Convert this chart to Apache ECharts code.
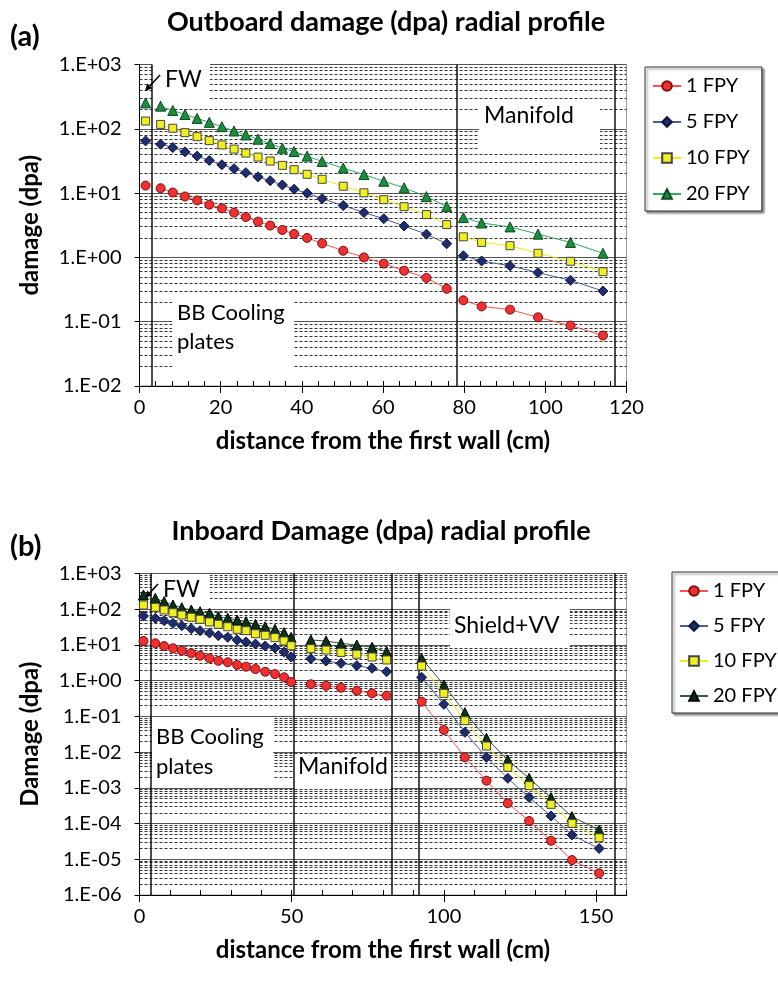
<!DOCTYPE html>
<html>
<head>
<meta charset="utf-8">
<title>Damage (dpa) radial profiles</title>
<script src="https://cdn.jsdelivr.net/npm/echarts@6/dist/echarts.min.js"></script>
<style>
html, body { margin: 0; padding: 0; background: #fff; }
#chart { width: 778px; height: 990px; }
</style>
</head>
<body>
<div id="chart"></div>
<script type="text/javascript">
// values; null = no line between two zones
// (a) outboard: distance (cm) and damage (dpa)
var outX   = [1.5, null, 5.2, 8.2, 11.2, 14.2, 17.2, 20.3, 23.3, 26.2, 29.2, 32.2, 35.2, 38.1, 41.3, 45.0, 50.2, 55.3, 60.2, 65.2, 70.7, 75.7, null, 79.8, 84.3, 91.3, 98.2, 106.2, 114.2];
var out1   = [13.1, null, 11.9, 10.2, 8.86, 7.7, 6.6, 5.8, 4.97, 4.25, 3.6, 3.13, 2.67, 2.32, 2.01, 1.65, 1.27, 1.0, 0.80, 0.62, 0.48, 0.325, null, 0.215, 0.173, 0.154, 0.117, 0.087, 0.061];
var out5   = [64.8, null, 57.7, 51.1, 43.8, 37.6, 32.2, 27.6, 24.0, 20.8, 17.9, 15.6, 13.4, 11.5, 9.96, 8.2, 6.4, 4.97, 4.0, 3.08, 2.30, 1.63, null, 1.06, 0.88, 0.74, 0.58, 0.44, 0.30];
var out10  = [132, null, 117, 102, 87.1, 75.5, 65.5, 56.2, 48.3, 41.9, 36.3, 31.5, 27.0, 23.1, 19.6, 16.4, 12.8, 10.1, 7.9, 6.15, 4.63, 3.24, null, 2.09, 1.71, 1.52, 1.16, 0.87, 0.60];
var out20  = [253, null, 225, 193, 167, 145, 126, 108, 92.4, 80.2, 68.8, 58.9, 49.9, 44.4, 37.6, 31.1, 24.5, 19.4, 15.3, 12.1, 8.8, 6.2, null, 4.16, 3.43, 2.98, 2.30, 1.71, 1.16];
var outWalls = [3.0, 78.1, 117.2];

// (b) inboard
var inX  = [1.3, null, 5.2, 8.1, 11.0, 13.9, 17.0, 19.9, 23.0, 25.9, 29.0, 32.1, 35.0, 38.1, 41.3, 44.5, 47.5, 49.8, null, 56.3, 61.3, 66.2, 71.4, 76.4, 81.2, null, 92.7, 100.0, 106.9, 114.0, 121.0, 128.0, 135.2, 142.1, 151.0];
var in1  = [12.9, null, 11.1, 9.3, 8.05, 6.9, 5.83, 5.0, 4.2, 3.6, 3.27, 2.74, 2.46, 2.12, 1.78, 1.53, 1.24, 0.92, null, 0.79, 0.72, 0.635, 0.52, 0.44, 0.38, null, 0.258, 0.0416, 0.00714, 0.00158, 3.7e-4, 1.18e-4, 3.3e-5, 9.5e-6, 4.05e-6];
var in5  = [64.6, null, 55.6, 47.7, 40.2, 34.6, 28.5, 25.1, 21.6, 18.2, 16.3, 13.7, 12.1, 10.6, 9.3, 8.2, 6.3, 4.6, null, 4.12, 3.55, 3.06, 2.63, 2.22, 1.78, null, 1.24, 0.218, 0.0358, 0.00714, 0.00185, 5.4e-4, 1.63e-4, 4.8e-5, 2.0e-5];
var in10 = [131, null, 113, 95, 80, 68.9, 59.4, 52.2, 43.9, 37.8, 32.4, 27.4, 25.1, 20.6, 18.6, 16.0, 12.9, 9.5, null, 7.85, 7.2, 6.2, 5.5, 4.6, 3.8, null, 2.57, 0.44, 0.0757, 0.0148, 0.00375, 1.15e-3, 3.45e-4, 1.01e-4, 4.0e-5];
var in20 = [250, null, 202, 163, 131, 110, 95, 85, 77, 62, 55.6, 49.9, 44.8, 37.8, 32.4, 27.4, 22.0, 16.3, null, 13.7, 12.9, 11.1, 9.96, 8.6, 6.5, null, 4.2, 0.757, 0.127, 0.0243, 0.0060, 1.85e-3, 5.3e-4, 1.56e-4, 6.6e-5];
var inWalls = [3.7, 50.6, 82.9, 91.9, 156.3];

var names = ['1 FPY', '5 FPY', '10 FPY', '20 FPY'];

var FONT = 'Lato, "Noto Sans", sans-serif';

var chart = echarts.init(document.getElementById('chart'));

function pts(xs, ys) {
    return xs.map(function (x, i) {
        return (x == null || ys[i] == null) ? ['-', '-'] : [x, ys[i]];
    });
}

// dashed minor grid at 2..9 of every decade
function minorLines(lo, hi) {
    var out = [];
    for (var e = lo; e < hi; e++) {
        for (var m = 2; m <= 9; m++) out.push({ yAxis: m * Math.pow(10, e) });
    }
    return out;
}

function expLabel(v) {
    var e = Math.round(Math.log10(v));
    return '1.E' + (e < 0 ? '-' : '+') + (Math.abs(e) < 10 ? '0' : '') + Math.abs(e);
}

var markStyles = [
    { symbol: 'circle', size: 9, fill: '#f03030', border: '#7a1010', line: '#ff5050' },
    { symbol: 'diamond', size: 10, fill: '#1f2d6e', border: '#0c1440', line: '#4a5c9c' },
    { symbol: 'rect', size: 8, fill: '#f0f020', border: '#444444', line: '#eeee10' },
    { symbol: 'triangle', size: 10, fill: '#1d8c3e', border: '#0b4a1e', line: '#30a860' }
];
var green20b = { symbol: 'triangle', size: 10, fill: '#0a3318', border: '#000000', line: '#2d5e3c' };

function dataSeries(prefix, idx, xs, ys, st, z) {
    return {
        name: prefix + ' ' + names[idx],
        type: 'line',
        xAxisIndex: prefix === 'Outboard' ? 0 : 2,
        yAxisIndex: prefix === 'Outboard' ? 0 : 1,
        data: pts(xs, ys),
        symbol: st.symbol,
        symbolSize: st.size,
        showAllSymbol: true,
        connectNulls: false,
        z: z,
        lineStyle: { color: st.line, width: 1 },
        itemStyle: { color: st.fill, borderColor: st.border, borderWidth: 1 }
    };
}

// minor grid sits under the white text boxes (z 2), walls above them
function gridLines(xi, yi, lo, hi) {
    return {
        type: 'line', xAxisIndex: xi, yAxisIndex: yi, data: [], z: 1, silent: true,
        markLine: {
            z: 1, silent: true, animation: false, symbol: ['none', 'none'], precision: 12,
            label: { show: false },
            lineStyle: { type: [3, 2], color: '#333', width: 1 },
            data: minorLines(lo, hi)
        }
    };
}

function wallLines(xi, yi, walls) {
    return {
        type: 'line', xAxisIndex: xi, yAxisIndex: yi, data: [], z: 3, silent: true,
        markLine: {
            z: 3, silent: true, animation: false, symbol: ['none', 'none'], precision: 4,
            label: { show: false },
            lineStyle: { type: 'solid', color: '#111', width: 1.5 },
            data: walls.map(function (w) { return { xAxis: w }; })
        }
    };
}

function xMain(grid, max, step, name) {
    return {
        gridIndex: grid, type: 'value', position: 'bottom', min: 0, max: max, interval: step,
        axisLine: { lineStyle: { color: '#000', width: 1 } },
        axisTick: { length: 7, lineStyle: { color: '#000' } },
        axisLabel: { color: '#000', fontSize: 20, fontFamily: FONT, margin: 12, showMaxLabel: max % step === 0 },
        splitLine: { show: false },
        name: name, nameLocation: 'middle', nameGap: 43,
        nameTextStyle: { color: '#000', fontSize: 24, fontWeight: 'bold', fontFamily: FONT }
    };
}
function xMinor(grid, max, step) {
    return {
        gridIndex: grid, type: 'value', position: 'bottom', min: 0, max: max, interval: step,
        axisLine: { show: false },
        axisTick: { inside: true, length: 5, lineStyle: { color: '#000' } },
        axisLabel: { show: false }, splitLine: { show: false }
    };
}
function yLog(grid, min, name) {
    return {
        gridIndex: grid, type: 'log', logBase: 10, min: min, max: 1000, position: 'left',
        axisLine: { show: true, lineStyle: { color: '#000', width: 1 } },
        axisTick: { show: true, length: 5, lineStyle: { color: '#000' } },
        axisLabel: { color: '#000', fontSize: 20, fontFamily: FONT, margin: 18, formatter: expLabel },
        splitLine: { show: true, lineStyle: { color: '#555', width: 1 } },
        name: name, nameLocation: 'middle', nameGap: 97, nameRotate: 90,
        nameTextStyle: { color: '#000', fontSize: 24, fontWeight: 'bold', fontFamily: FONT }
    };
}

function legendFor(prefix, left, top, gap) {
    return {
        orient: 'vertical', left: left, top: top, selectedMode: false,
        data: names.map(function (n) { return prefix + ' ' + n; }),
        formatter: function (n) { return n.replace(prefix + ' ', ''); },
        itemWidth: 28, itemHeight: 12, itemGap: gap,
        textStyle: { color: '#000', fontSize: 20, fontFamily: FONT, lineHeight: 18 },
        padding: [9, 12, 7, 7],
        backgroundColor: '#fff', borderColor: '#333', borderWidth: 1,
        shadowColor: 'rgba(0,0,0,0.45)', shadowOffsetX: 2, shadowOffsetY: 2, shadowBlur: 2
    };
}

function box(x, y, w, h) {
    return { type: 'rect', z: 2, silent: true, shape: { x: x, y: y, width: w, height: h }, style: { fill: '#fff' } };
}
function label(text, x, y, size, bold, align) {
    return {
        type: 'text', z: 10, silent: true, x: x, y: y,
        style: {
            text: text, fill: '#000', font: (bold ? 'bold ' : '') + size + 'px ' + FONT,
            textAlign: align || 'left', textVerticalAlign: 'middle',
            align: align || 'left', verticalAlign: 'middle'
        }
    };
}
function arrow(x1, y1, x2, y2) {
    var dx = x2 - x1, dy = y2 - y1, len = Math.sqrt(dx * dx + dy * dy);
    var ux = dx / len, uy = dy / len, bx = x2 - ux * 7, by = y2 - uy * 7;
    return [
        { type: 'line', z: 10, silent: true, shape: { x1: x1, y1: y1, x2: bx, y2: by }, style: { stroke: '#000', lineWidth: 1.5 } },
        { type: 'polygon', z: 10, silent: true, shape: { points: [[x2, y2], [bx - uy * 3.5, by + ux * 3.5], [bx + uy * 3.5, by - ux * 3.5]] }, style: { fill: '#000' } }
    ];
}

var series = [
    gridLines(0, 0, -2, 3),
    gridLines(2, 1, -6, 3),
    wallLines(0, 0, outWalls),
    wallLines(2, 1, inWalls),
    dataSeries('Outboard', 0, outX, out1, markStyles[0], 4),
    dataSeries('Outboard', 1, outX, out5, markStyles[1], 4),
    dataSeries('Outboard', 2, outX, out10, markStyles[2], 4),
    dataSeries('Outboard', 3, outX, out20, markStyles[3], 4),
    dataSeries('Inboard', 0, inX, in1, markStyles[0], 4),
    dataSeries('Inboard', 1, inX, in5, markStyles[1], 4),
    dataSeries('Inboard', 2, inX, in10, markStyles[2], 5),
    dataSeries('Inboard', 3, inX, in20, green20b, 4)
];

var graphics = [
    box(152, 64, 58, 37),
    box(479, 100, 121, 49),
    box(172, 296, 122, 76),
    box(152, 574, 58, 32),
    box(450, 608, 120, 39),
    box(152, 718, 121, 69),
    box(294, 754, 97, 35),
    label('(a)', 10, 37, 29, true),
    label('Outboard damage (dpa) radial profile', 386, 22, 27, true, 'center'),
    label('(b)', 10, 547, 29, true),
    label('Inboard Damage (dpa) radial profile', 381, 531, 27, true, 'center'),
    label('FW', 165, 80, 23),
    label('Manifold', 484, 116, 23),
    label('BB Cooling', 177, 313, 22),
    label('plates', 177, 342, 22),
    label('FW', 163, 590, 23),
    label('Shield+VV', 454, 626, 23),
    label('BB Cooling', 156, 737, 22),
    label('plates', 156, 767, 22),
    label('Manifold', 298, 767, 23)
].concat(arrow(160, 75, 145, 91), arrow(158, 584, 145, 598));

var option = {
    animation: false,
    backgroundColor: '#fff',
    grid: [
        { left: 139.5, top: 64.5, width: 487, height: 321.5, show: true, borderColor: '#999', borderWidth: 1 },
        { left: 139.5, top: 573.5, width: 487, height: 321.5, show: true, borderColor: '#999', borderWidth: 1 }
    ],
    xAxis: [
        xMain(0, 120, 20, 'distance from the first wall (cm)'),
        xMinor(0, 120, 4),
        xMain(1, 160, 50, 'distance from the first wall (cm)'),
        xMinor(1, 160, 10)
    ],
    yAxis: [
        yLog(0, 0.01, 'damage (dpa)'),
        yLog(1, 1e-6, 'Damage (dpa)')
    ],
    legend: [
        legendFor('Outboard', 645, 67, 16),
        legendFor('Inboard', 672, 572, 15)
    ],
    series: series,
    graphic: { elements: graphics }
};

chart.setOption(option);
</script>
</body>
</html>
